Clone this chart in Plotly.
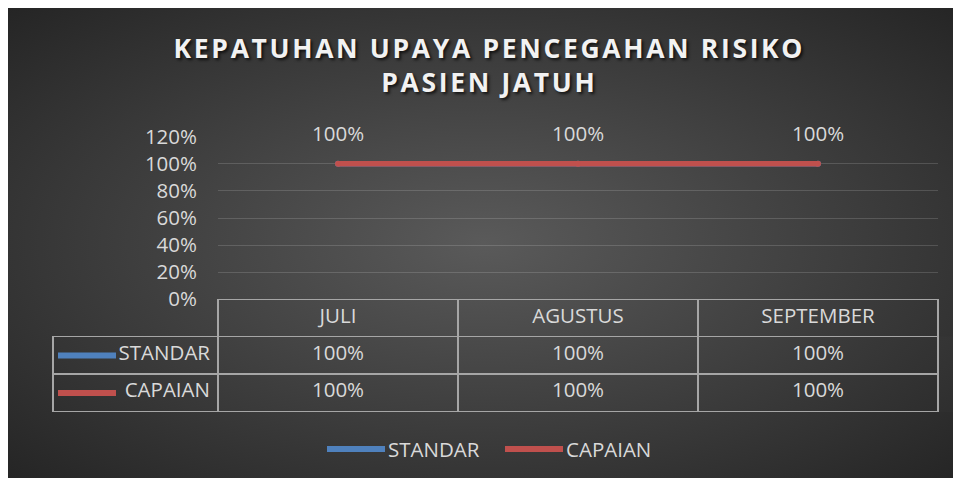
import base64
import plotly.graph_objects as go

# ---------------- data ----------------
categories = ["JULI", "AGUSTUS", "SEPTEMBER"]
series_names = ["STANDAR", "CAPAIAN"]
standar = [1.0, 1.0, 1.0]
capaian = [1.0, 1.0, 1.0]
tick_vals = [0, 0.2, 0.4, 0.6, 0.8, 1.0, 1.2]
title_lines = ["KEPATUHAN UPAYA PENCEGAHAN RISIKO", "PASIEN JATUH"]

# ---------------- style ----------------
W, H = 961, 481
OFF = 8  # page offset of the figure
series_colors = ["#4F81BD", "#C0504D"]
txt = "#D9D9D9"
border = "#A6A6A6"
FONT = "Open Sans"
FS = 20.5


def px(x):
    return (x - OFF) / W


def py(y):
    return 1 - (y - OFF) / H


def spaced(s):
    return "\u200a".join(list(s))


fig = go.Figure()

for name, vals, col in zip(series_names, [standar, capaian], series_colors):
    fig.add_trace(go.Scatter(
        x=categories, y=vals, name=name, mode="lines+markers",
        line=dict(color=col, width=5.5),
        marker=dict(color=col, size=6),
        hoverinfo="skip", showlegend=False,
    ))

# data labels above CAPAIAN points
annotations = []
for c, v in zip(categories, capaian):
    annotations.append(dict(
        x=c, y=v, xref="x", yref="y", text=f"{v:.0%}", showarrow=False,
        yshift=31, font=dict(family=FONT, size=FS, color=txt),
    ))

# data table
cell_cols = [series_names] + [[f"{s:.0%}", f"{c:.0%}"] for s, c in zip(standar, capaian)]
fig.add_trace(go.Table(
    domain=dict(x=[px(53), px(938)], y=[py(413), py(299.3)]),
    columnwidth=[165, 240, 240, 240],
    header=dict(
        values=[""] + categories, height=37, align="center",
        fill=dict(color="rgba(0,0,0,0)"),
        line=dict(color=["rgba(0,0,0,0)", border, border, border], width=1.5),
        font=dict(family=FONT, size=FS, color=txt),
    ),
    cells=dict(
        values=cell_cols, height=37.5,
        align=["right", "center", "center", "center"],
        fill=dict(color="rgba(0,0,0,0)"),
        line=dict(color=border, width=1.5),
        font=dict(family=FONT, size=FS, color=txt),
    ),
))

# legend keys inside the table label column + bottom legend
shapes = []
for i, col in enumerate(series_colors):
    yc = 355.5 + i * 37.5
    shapes.append(dict(type="line", xref="paper", yref="paper",
                       x0=px(58), x1=px(116), y0=py(yc), y1=py(yc),
                       line=dict(color=col, width=6)))

legend_x = [327, 505]
for name, col, lx in zip(series_names, series_colors, legend_x):
    shapes.append(dict(type="line", xref="paper", yref="paper",
                       x0=px(lx), x1=px(lx + 58), y0=py(449), y1=py(449),
                       line=dict(color=col, width=6)))
    annotations.append(dict(
        x=px(lx + 59), y=py(449), xref="paper", yref="paper", text=name,
        showarrow=False, xanchor="left", yanchor="middle",
        font=dict(family=FONT, size=FS, color=txt),
    ))

# background gradient
svg = (
    f'<svg xmlns="http://www.w3.org/2000/svg" width="953" height="473">'
    '<defs><radialGradient id="g" cx="50%" cy="50%" r="72%">'
    '<stop offset="0" stop-color="#5A5A5A"/><stop offset="1" stop-color="#242424"/>'
    '</radialGradient></defs><rect width="953" height="473" fill="url(#g)"/></svg>'
)
src = "data:image/svg+xml;base64," + base64.b64encode(svg.encode()).decode()

fig.update_layout(
    width=W, height=H,
    margin=dict(l=0, r=0, t=0, b=0, autoexpand=False),
    paper_bgcolor="white",
    plot_bgcolor="rgba(0,0,0,0)",
    images=[dict(source=src, xref="paper", yref="paper", x=0, y=1,
                 sizex=953 / W, sizey=(478 - OFF) / H, sizing="stretch",
                 xanchor="left", yanchor="top", layer="below")],
    title=dict(
        text="<br>".join(spaced(t) for t in title_lines),
        x=px(488), xanchor="center", y=py(57.5), yanchor="middle",
        font=dict(family=FONT, size=26.5, color="#F2F2F2", weight="bold",
                  shadow="2px 2px 3px rgba(0,0,0,0.7)"),
    ),
    xaxis=dict(domain=[px(218), px(938)], range=[-0.5, 2.5],
               showticklabels=False, showgrid=False, zeroline=False,
               showline=False, ticks=""),
    yaxis=dict(domain=[py(299.3), py(136.7)], range=[0, 1.2],
               tickvals=tick_vals, tickformat=".0%",
               showgrid=True, gridcolor="rgba(255,255,255,0.15)", gridwidth=1,
               zeroline=False, showline=False, ticks="",
               ticklabelstandoff=20,
               tickfont=dict(family=FONT, size=FS, color=txt)),
    showlegend=False,
    annotations=annotations,
    shapes=shapes,
)

fig.write_html("out.html")
